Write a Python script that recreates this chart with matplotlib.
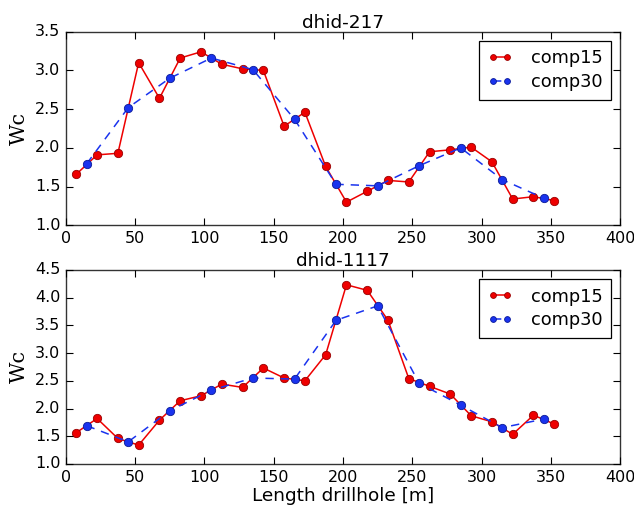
import matplotlib
matplotlib.use("Agg")
import matplotlib.pyplot as plt
import numpy as np

plt.style.use("classic")
plt.rcParams["figure.facecolor"] = "white"
plt.rcParams["savefig.facecolor"] = "white"

# composite centres (m)
x15 = np.arange(7.5, 360, 15)
x30 = np.arange(15, 360, 30)

wc15_217 = [1.66, 1.91, 1.93, 3.10, 2.64, 3.16, 3.24, 3.08, 3.02, 3.00, 2.28, 2.46,
            1.76, 1.30, 1.44, 1.58, 1.56, 1.95, 1.975, 2.01, 1.82, 1.34, 1.37, 1.32]
wc30_217 = [1.795, 2.52, 2.90, 3.16, 3.01, 2.37, 1.53, 1.51, 1.77, 2.00, 1.59, 1.35]

wc15_1117 = [1.565, 1.82, 1.46, 1.34, 1.79, 2.14, 2.23, 2.44, 2.38, 2.73, 2.55, 2.50,
             2.97, 4.23, 4.13, 3.59, 2.54, 2.40, 2.26, 1.87, 1.76, 1.535, 1.88, 1.72]
wc30_1117 = [1.69, 1.40, 1.96, 2.33, 2.55, 2.53, 3.59, 3.85, 2.455, 2.06, 1.655, 1.81]

holes = [("dhid-217", wc15_217, wc30_217, (1.0, 3.5)),
         ("dhid-1117", wc15_1117, wc30_1117, (1.0, 4.5))]

fig = plt.figure(figsize=(6.34, 5.11), dpi=100)
boxes = [[0.104, 0.559, 0.874, 0.379], [0.104, 0.092, 0.874, 0.380]]

for box, (name, v15, v30, ylim) in zip(boxes, holes):
    ax = fig.add_axes(box)
    ax.plot(x15, v15, "-o", color="#ee0000", mec="#990000", mew=0.6, ms=6,
            lw=1.1, label="comp15")
    ax.plot(x30, v30, "--o", color="#1a33ee", mec="#0a1a99", mew=0.6, ms=6,
            lw=1.1, dashes=(6, 5), label="comp30")
    ax.set_xlim(0, 400)
    ax.set_ylim(*ylim)
    ax.set_yticks(np.arange(ylim[0], ylim[1] + 0.01, 0.5))
    ax.tick_params(labelsize=11.5, width=0.8, length=5)
    for s in ax.spines.values():
        s.set_linewidth(1.0)
        s.set_color("#333333")
    ax.set_title(name, fontsize=13.3, pad=3)
    ax.set_ylabel("Wc", family="DejaVu Serif", fontsize=15, labelpad=4)
    leg = ax.legend(loc="upper right", fontsize=12.8, markerscale=0.7,
                    handlelength=1.4, handletextpad=1.0, borderpad=0.5,
                    labelspacing=0.3, fancybox=False)
    leg.get_frame().set_linewidth(0.9)

ax.set_xlabel("Length drillhole [m]", fontsize=13.3, labelpad=2)

fig.savefig("out.png", dpi=100)
